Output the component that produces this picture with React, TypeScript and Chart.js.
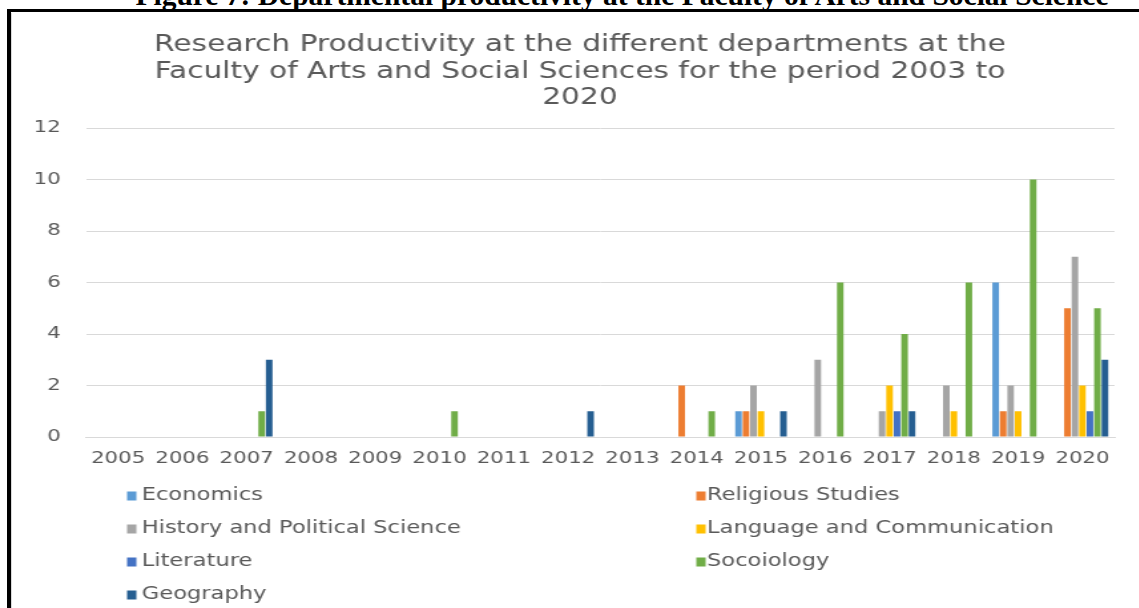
import React, { useEffect, useRef } from "react";
import { Chart, registerables } from "chart.js";

Chart.register(...registerables);

const years = ["2005", "2006", "2007", "2008", "2009", "2010", "2011", "2012", "2013", "2014", "2015", "2016", "2017", "2018", "2019", "2020"];
const economics = [0, 0, 0, 0, 0, 0, 0, 0, 0, 0, 1, 0, 0, 0, 6, 0];
const religiousStudies = [0, 0, 0, 0, 0, 0, 0, 0, 0, 2, 1, 0, 0, 0, 1, 5];
const historyPolitical = [0, 0, 0, 0, 0, 0, 0, 0, 0, 0, 2, 3, 1, 2, 2, 7];
const languageComm = [0, 0, 0, 0, 0, 0, 0, 0, 0, 0, 1, 0, 2, 1, 1, 2];
const literature = [0, 0, 0, 0, 0, 0, 0, 0, 0, 0, 0, 0, 1, 0, 0, 1];
const socoiology = [0, 0, 1, 0, 0, 1, 0, 0, 0, 1, 0, 6, 4, 6, 10, 5];
const geography = [0, 0, 3, 0, 0, 0, 0, 1, 0, 0, 1, 0, 1, 0, 0, 3];

const seriesNames = [
  "Economics",
  "Religious Studies",
  "History and Political Science",
  "Language and Communication",
  "Literature",
  "Socoiology",
  "Geography",
];
const seriesColors = ["#5B9BD5", "#ED7D31", "#A5A5A5", "#FFC000", "#4472C4", "#70AD47", "#255E91"];
const seriesValues = [economics, religiousStudies, historyPolitical, languageComm, literature, socoiology, geography];

const titleLines = [
  "Research Productivity at the different departments at the",
  "Faculty of Arts and Social Sciences for the period 2003 to",
  "2020",
];
const figureCaption = "Figure 7: Departmental productivity at the Faculty of Arts and Social Science";

const K = 1.33; // horizontal stretch of the picture
const LOGICAL_W = Math.round(1127 / K);
const LOGICAL_H = 594;
const FONT = "'DejaVu Sans', Verdana, sans-serif";
const TEXT = "#595959";

const twoColLegend = {
  id: "twoColLegend",
  afterDraw(chart: any) {
    const ctx = chart.ctx;
    ctx.save();
    ctx.font = `17px ${FONT}`;
    ctx.textBaseline = "middle";
    ctx.textAlign = "left";
    chart.data.datasets.forEach((ds: any, i: number) => {
      const col = i % 2;
      const row = Math.floor(i / 2);
      const mx = col === 0 ? 86.5 : 514.5;
      const tx = col === 0 ? 97.5 : 522.5;
      const y = 482 + row * 33;
      ctx.fillStyle = ds.backgroundColor;
      ctx.fillRect(mx, y - 4.5, 7, 9);
      ctx.fillStyle = TEXT;
      ctx.fillText(ds.label, tx, y);
    });
    ctx.restore();
  },
};

export default function App() {
  const ref = useRef<HTMLCanvasElement | null>(null);
  useEffect(() => {
    if (!ref.current) return;
    const chart = new Chart(ref.current, {
      type: "bar",
      data: {
        labels: years,
        datasets: seriesNames.map((name, i) => ({
          label: name,
          data: seriesValues[i],
          backgroundColor: seriesColors[i],
          borderWidth: 0,
          categoryPercentage: 0.816,
          barPercentage: 0.88,
        })),
      },
      options: {
        responsive: false,
        animation: false,
        devicePixelRatio: 1,
        layout: { padding: { left: 7, right: 0, top: 0, bottom: 141 } },
        plugins: {
          legend: { display: false },
          tooltip: { enabled: false },
          title: {
            display: true,
            text: titleLines,
            color: TEXT,
            font: { family: FONT, size: 22.3, weight: "normal", lineHeight: 1.19 },
            padding: { top: 18, bottom: 16.5 },
          },
        },
        scales: {
          x: {
            grid: { display: false, drawTicks: false },
            border: { display: true, color: "#D9D9D9", width: 1 },
            ticks: { color: TEXT, font: { family: FONT, size: 16 }, padding: 12, maxRotation: 0, autoSkip: false },
            afterFit: (s: any) => { s.height = 30; },
          },
          y: {
            min: 0,
            max: 12,
            grid: { color: "#D9D9D9", drawTicks: false, lineWidth: 1 },
            border: { display: false },
            ticks: { stepSize: 2, color: TEXT, font: { family: FONT, size: 16 }, padding: 19 },
            afterFit: (s: any) => { s.width = 48.6; },
          },
          yRight: {
            position: "right",
            display: true,
            grid: { display: false, drawTicks: false },
            border: { display: false },
            ticks: { display: false },
            afterFit: (s: any) => { s.width = 18; },
          },
        },
      },
      plugins: [twoColLegend],
    });
    return () => chart.destroy();
  }, []);

  return (
    <div style={{ position: "fixed", left: 0, top: 0, width: 1139, height: 608, overflow: "hidden", background: "#fff" }}>
      <div
        style={{
          position: "absolute",
          left: 0,
          width: 1139,
          top: -19,
          fontFamily: "'Liberation Serif', 'Times New Roman', serif",
          fontWeight: "bold",
          fontSize: 29.5,
          lineHeight: "29.5px",
          color: "#000",
          whiteSpace: "nowrap",
          overflow: "visible",
        }}
      >
        <span style={{ position: "absolute", left: 622, transform: "translateX(-50%)" }}>{figureCaption}</span>
      </div>
      <div
        style={{
          position: "absolute",
          left: 7,
          top: 9,
          width: 1132,
          height: 599,
          borderTop: "3.5px solid #000",
          borderLeft: "4px solid #000",
          boxSizing: "border-box",
        }}
      />
      <div
        style={{
          position: "absolute",
          left: 11,
          top: 12.5,
          width: 1,
          height: 596,
          background: "#D9D9D9",
        }}
      />
      <div
        style={{
          position: "absolute",
          left: 12,
          top: 14,
          width: LOGICAL_W,
          height: LOGICAL_H,
          transform: `scaleX(${K})`,
          transformOrigin: "0 0",
        }}
      >
        <canvas
          ref={ref}
          width={LOGICAL_W}
          height={LOGICAL_H}
          style={{ width: LOGICAL_W, height: LOGICAL_H, display: "block" }}
        />
      </div>
    </div>
  );
}
